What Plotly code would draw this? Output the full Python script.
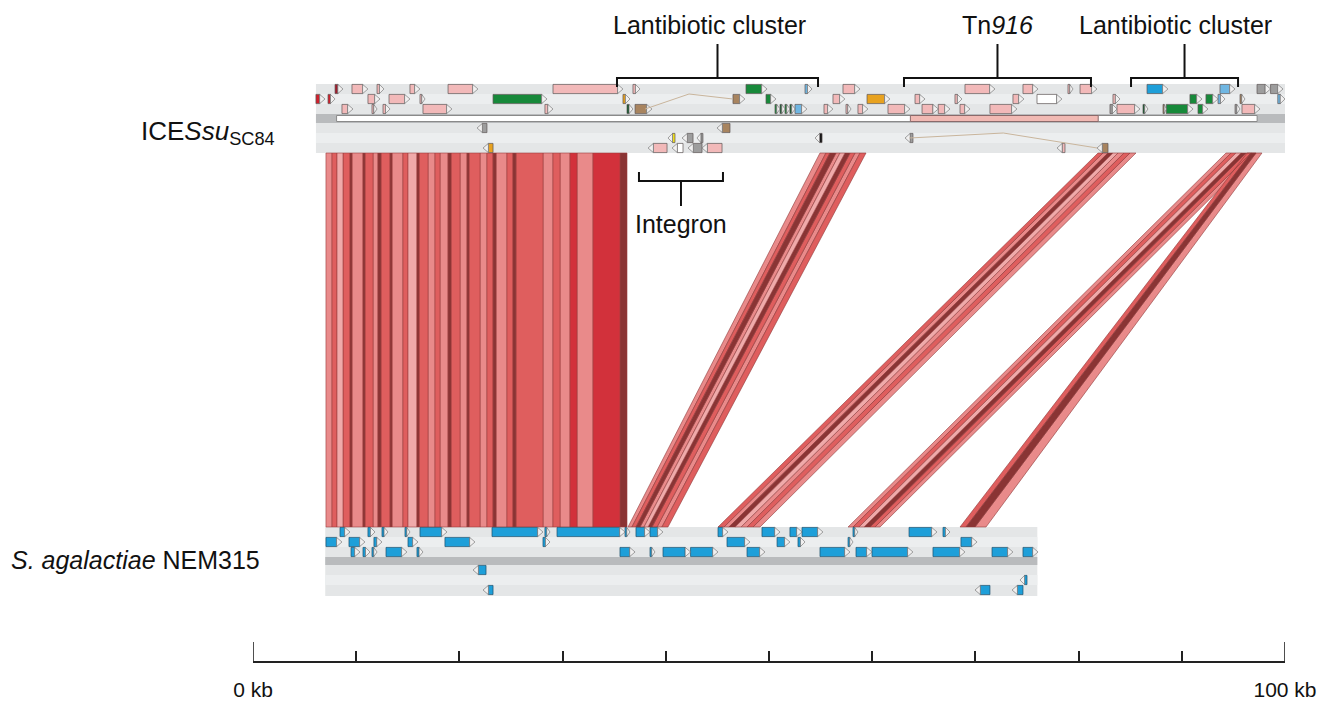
import plotly.graph_objects as go
from collections import OrderedDict

# ---------------- data ----------------
scale_major_kb = [0, 100]
scale_major_labels = ["0 kb", "100 kb"]
scale_minor_step_kb = 10

top_label = "ICE<i>Ssu</i><sub>SC84</sub>"
bottom_label = "<i>S. agalactiae</i> NEM315"

top_extent_kb = [6.1, 100.0]
top_contig_kb = [8.1, 97.3]
top_tn916_bar_kb = [63.7, 81.9]
bottom_extent_kb = [7.0, 76.0]

# genes of ICESsu SC84: (start kb, end kb, colour class); frames 1-3 forward, 4-6 reverse
top_frame1 = [(7.95, 8.72, "darkred"), (9.59, 11.14, "pink"), (12.02, 12.69, "pink"), (15.21, 16.18, "pink"),
              (18.90, 21.80, "pink"), (29.07, 35.85, "pink"), (36.82, 37.50, "pink"), (47.77, 49.81, "green"),
              (53.49, 54.17, "ltblue"), (57.17, 58.82, "pink"), (68.99, 71.90, "pink"), (74.61, 76.07, "pink"),
              (78.97, 79.46, "pink"), (80.14, 81.78, "pink"), (86.63, 88.66, "blue"), (93.70, 95.16, "ltblue"),
              (97.29, 98.60, "gray"), (98.60, 99.81, "gray")]
top_frame2 = [(6.10, 6.98, "red"), (7.27, 7.95, "red"), (11.14, 12.31, "pink"), (13.18, 15.21, "pink"),
              (16.18, 16.67, "pink"), (23.26, 28.49, "green"), (35.85, 36.53, "orange"), (46.51, 47.67, "brown"),
              (49.71, 50.68, "green"), (56.20, 57.36, "pink"), (59.50, 61.72, "orange"), (64.15, 65.12, "pink"),
              (68.02, 68.70, "pink"), (73.64, 74.71, "pink"), (75.97, 78.39, "white"), (83.33, 84.01, "pink"),
              (90.79, 91.96, "green"), (92.34, 93.51, "green"), (93.51, 94.19, "ltblue"), (95.64, 96.12, "brown"),
              (99.30, 100.0, "ltblue")]
top_frame3 = [(8.62, 9.69, "pink"), (11.53, 12.02, "pink"), (12.60, 13.28, "pink"), (16.47, 19.28, "pink"),
              (28.29, 29.07, "pink"), (36.24, 36.82, "dkgreen"), (37.02, 38.66, "brown"), (50.58, 51.07, "green"),
              (51.07, 51.55, "dkgreen"), (51.55, 52.03, "green"), (52.03, 52.52, "dkgreen"), (52.52, 53.68, "ltblue"),
              (55.33, 56.20, "pink"), (57.46, 57.95, "pink"), (58.62, 59.59, "pink"), (61.53, 63.66, "pink"),
              (64.83, 66.40, "pink"), (66.40, 67.54, "pink"), (68.51, 69.48, "pink"), (71.41, 74.03, "pink"),
              (83.04, 83.72, "gray"), (83.72, 85.95, "pink"), (86.24, 86.72, "dkgreen"), (88.18, 88.50, "brown"),
              (88.50, 91.09, "green"), (91.57, 92.54, "green"), (95.16, 95.64, "gray"), (95.83, 97.58, "pink")]
top_frame4 = [(21.71, 22.67, "gray"), (44.96, 46.22, "brown")]
top_frame5 = [(40.21, 40.89, "yellow"), (41.57, 42.64, "gray"), (43.02, 43.60, "gray"),
              (54.46, 55.14, "black"), (63.18, 63.95, "gray")]
top_frame6 = [(22.29, 23.26, "orange"), (38.28, 40.12, "pink"), (40.60, 41.67, "white"), (42.15, 43.51, "gray"),
              (43.51, 45.45, "pink"), (77.91, 78.68, "pink"), (81.78, 82.85, "brown")]

# split-gene links in ICESsu SC84: ((kb, frame), (kb, frame))
top_links = [((38.0, 3), (46.5, 2)), ((63.6, 5), (81.8, 6))]

# genes of S. agalactiae NEM315 (all one colour): (start kb, end kb)
bottom_frame1 = [(8.43, 9.40), (11.14, 11.82), (12.50, 13.08), (14.73, 15.21), (16.18, 18.80), (23.16, 28.10),
                 (28.29, 28.78), (29.46, 36.05), (36.05, 36.53), (37.11, 38.47), (38.47, 39.73), (45.06, 46.03),
                 (49.32, 51.07), (52.03, 53.20), (53.20, 55.23), (58.14, 58.62), (63.57, 66.28), (66.86, 67.54)]
bottom_frame2 = [(7.07, 8.62), (9.30, 10.85), (11.72, 12.50), (15.02, 15.99), (18.60, 21.51), (28.10, 28.78),
                 (45.93, 48.16), (50.78, 52.03), (52.81, 53.49), (57.66, 58.14), (68.60, 70.16)]
bottom_frame3 = [(9.50, 10.37), (10.66, 11.34), (11.53, 12.02), (12.89, 14.92), (15.89, 16.47), (35.56, 37.02),
                 (38.47, 38.95), (39.73, 42.40), (42.40, 45.06), (47.87, 49.61), (54.94, 57.85), (58.43, 59.98),
                 (59.98, 63.95), (65.89, 68.99), (71.61, 73.64), (74.61, 76.07)]
bottom_frame4 = [(21.32, 22.58)]
bottom_frame5 = [(74.32, 75.00)]
bottom_frame6 = [(22.29, 23.26), (69.96, 71.41), (73.55, 74.61)]

# collinear block (same coordinates in both genomes): edges in kb and similarity class per segment
block_edges_kb = [7.07, 7.66, 8.14, 8.72, 9.40, 9.59, 10.66, 10.85, 11.63, 12.11, 12.40, 13.28, 13.47, 14.53,
                  15.02, 15.89, 16.09, 16.96, 17.64, 18.12, 18.90, 19.19, 20.06, 20.74, 20.93, 22.00, 22.67,
                  23.26, 23.55, 24.61, 25.19, 25.48, 28.10, 29.07, 29.75, 30.72, 31.40, 32.95, 35.56, 36.24]
block_similarity = [2, 3, 1, 3, 5, 2, 5, 3, 2, 5, 3, 5, 2, 3, 1, 5, 3, 2, 3, 2, 5, 3, 2, 5, 3, 2, 3, 5, 2, 3,
                    5, 3, 2, 3, 2, 4, 2, 4, 5]

# shifted matches: edges in ICESsu SC84 (top) and NEM315 (bottom), similarity class per segment
bandA_top_kb = [54.94, 55.52, 55.91, 56.49, 56.88, 57.36, 57.85, 58.33, 58.82, 59.40]
bandA_bot_kb = [36.34, 36.72, 37.11, 37.50, 37.89, 38.28, 38.66, 39.15, 39.63, 40.21]
bandA_sim = [2, 3, 5, 2, 1, 5, 3, 2, 3]
bandB_top_kb = [81.88, 82.36, 82.85, 83.33, 83.82, 84.40, 84.98, 85.56]
bandB_bot_kb = [45.06, 45.64, 46.12, 46.71, 47.29, 47.87, 48.45, 49.13]
bandB_sim = [3, 2, 5, 1, 2, 3, 2]
bandC_top_kb = [94.28, 94.77, 95.25, 95.74, 96.22, 96.71, 97.19]
bandC_bot_kb = [57.66, 58.14, 58.72, 59.21, 59.79, 60.27, 60.76]
bandC_sim = [2, 3, 1, 5, 3, 2]
bandD_top_kb = [96.32, 96.71, 97.19, 97.77]
bandD_bot_kb = [68.51, 69.09, 69.96, 71.03]
bandD_sim = [3, 5, 2]

# annotated regions: (label, start kb, end kb)
top_regions = [("Lantibiotic cluster", 35.27, 54.75), ("Tn<i>916</i>", 63.08, 81.20),
               ("Lantibiotic cluster", 85.08, 95.45)]
integron_region = ("Integron", 37.40, 45.54)

# ---------------- styling / layout ----------------
W, H = 1336, 701
PAGE_OFF = 8                      # body margin of the html page
X0_PX, X100_PX = 253.0, 1285.0    # page pixels of 0 kb and 100 kb
AXIS_Y = 662
FONT = "Liberation Sans, Arial, sans-serif"
TXT = 25
REGION_LABEL_SHIFT = [-8, 0, -9]  # px nudge of each region label relative to its bracket centre

TOP_ROW_Y = {1: 89, 2: 99, 3: 109, 4: 128, 5: 138, 6: 148}
TOP_BAR = (114, 123)
TOP_BG = (84, 153)
BOT_ROW_Y = {1: 532, 2: 542, 3: 552, 4: 570, 5: 580, 6: 590}
BOT_BAR = (557, 565)
BOT_BG = (527, 596)
GENE_HALF = 4.6
TIP_KB = 0.52

GENE_COLORS = {"pink": "#f2b9b9", "red": "#d0202c", "darkred": "#a01c2c", "green": "#17893a",
               "dkgreen": "#0b5a2a", "ltblue": "#6fb6e2", "blue": "#1e9fd9", "brown": "#a8845f",
               "orange": "#e8a21f", "gray": "#9d9d9d", "white": "#ffffff", "yellow": "#f2e11c",
               "black": "#111111"}
SIM_COLORS = {1: "#f0aaaa", 2: "#e98a8a", 3: "#df5e5e", 4: "#d2313b", 5: "#8a3434"}


def px_to_paper_x(p):
    return (p - PAGE_OFF) / W


def px_to_paper_y(p):
    return 1 - (p - PAGE_OFF) / H


polys = OrderedDict()


def add_poly(fill, line, width, pts):
    key = (fill, line, width)
    if key not in polys:
        polys[key] = ([], [])
    xs, ys = polys[key]
    for x, y in pts:
        xs.append(x)
        ys.append(y)
    xs.append(pts[0][0])
    ys.append(pts[0][1])
    xs.append(None)
    ys.append(None)


# comparison matches
CMP_TOP, CMP_BOT = TOP_BG[1], BOT_BG[0]
for i, sim in enumerate(block_similarity):
    a, b = block_edges_kb[i], block_edges_kb[i + 1]
    add_poly(SIM_COLORS[sim], "#9b3c3c", 0.6, [(a, CMP_TOP), (b, CMP_TOP), (b, CMP_BOT), (a, CMP_BOT)])

for tops, bots, sims in [(bandA_top_kb, bandA_bot_kb, bandA_sim), (bandB_top_kb, bandB_bot_kb, bandB_sim),
                         (bandC_top_kb, bandC_bot_kb, bandC_sim), (bandD_top_kb, bandD_bot_kb, bandD_sim)]:
    for i, sim in enumerate(sims):
        add_poly(SIM_COLORS[sim], "#8e3a3a", 0.6,
                 [(tops[i], CMP_TOP), (tops[i + 1], CMP_TOP), (bots[i + 1], CMP_BOT), (bots[i], CMP_BOT)])

tips = []


def add_gene(s, e, yc, forward, color, outline):
    t = min(TIP_KB, 0.65 * (e - s))
    h = GENE_HALF
    if forward:
        if e - t > s:
            add_poly(color, outline, 0.7, [(s, yc - h), (e - t, yc - h), (e - t, yc + h), (s, yc + h)])
        tips.append([(e - t, yc - h), (e, yc), (e - t, yc + h)])
    else:
        if s + t < e:
            add_poly(color, outline, 0.7, [(s + t, yc - h), (e, yc - h), (e, yc + h), (s + t, yc + h)])
        tips.append([(s + t, yc - h), (s, yc), (s + t, yc + h)])


for frame, genes in enumerate([top_frame1, top_frame2, top_frame3, top_frame4, top_frame5, top_frame6], start=1):
    for s, e, kind in genes:
        add_gene(s, e, TOP_ROW_Y[frame], frame <= 3, GENE_COLORS[kind], "#5c5454")

for frame, genes in enumerate([bottom_frame1, bottom_frame2, bottom_frame3, bottom_frame4, bottom_frame5,
                               bottom_frame6], start=1):
    for s, e in genes:
        add_gene(s, e, BOT_ROW_Y[frame], frame <= 3, GENE_COLORS["blue"], "#1b4f6c")

for t in tips:
    add_poly("#f1f0f0", "#6a6a6a", 0.6, t)

fig = go.Figure()

# track backgrounds (shapes below traces)
shapes = []


def rect(x0, x1, y0, y1, fill, line=None, lw=0):
    shapes.append(dict(type="rect", xref="x", yref="y", x0=x0, x1=x1, y0=y0, y1=y1, fillcolor=fill,
                       line=dict(color=line or fill, width=lw), layer="below"))


for (ext, bg, rows, bar) in [(top_extent_kb, TOP_BG, TOP_ROW_Y, TOP_BAR),
                             (bottom_extent_kb, BOT_BG, BOT_ROW_Y, BOT_BAR)]:
    rect(ext[0], ext[1], bg[0], bg[1], "#e4e6e7")
    for fr in (2, 5):
        rect(ext[0], ext[1], rows[fr] - 5, rows[fr] + 5, "#eceeef")
    rect(ext[0], ext[1], bar[0], bar[1], "#b9bbbd")

rect(top_contig_kb[0], top_contig_kb[1], TOP_BAR[0] + 1.5, TOP_BAR[1] - 1.5, "#ffffff", "#8a8a8a", 1)
rect(top_tn916_bar_kb[0], top_tn916_bar_kb[1], TOP_BAR[0] + 1.5, TOP_BAR[1] - 1.5, "#f1b9b3", "#8a6a6a", 1)

for (fill, line, width), (xs, ys) in polys.items():
    fig.add_trace(go.Scatter(x=xs, y=ys, mode="lines", fill="toself", fillcolor=fill,
                             line=dict(color=line, width=width), hoverinfo="skip", showlegend=False))

# links between split genes
lx, ly = [], []
for (k1, f1), (k2, f2) in top_links:
    y1, y2 = TOP_ROW_Y[f1], TOP_ROW_Y[f2]
    lx += [k1, (k1 + k2) / 2, k2, None]
    ly += [y1, min(y1, y2) - 5, y2, None]
fig.add_trace(go.Scatter(x=lx, y=ly, mode="lines", line=dict(color="#c9b59c", width=1),
                         hoverinfo="skip", showlegend=False))

# brackets
bx, by = [], []
annotations = []
for (label, s, e), shift in zip(top_regions, REGION_LABEL_SHIFT):
    m = (s + e) / 2
    bx += [s, s, e, e, None, m, m, None]
    by += [87, 78, 78, 87, None, 78, 44, None]
    annotations.append(dict(x=m, y=25, xref="x", yref="y", text=label, showarrow=False, xshift=shift,
                            font=dict(family=FONT, size=TXT, color="#111"), xanchor="center", yanchor="middle"))
lab, s, e = integron_region
m = (s + e) / 2
bx += [s, s, e, e, None, m, m, None]
by += [172, 181, 181, 172, None, 181, 206, None]
annotations.append(dict(x=m, y=224, xref="x", yref="y", text=lab, showarrow=False,
                        font=dict(family=FONT, size=TXT, color="#111"), xanchor="center", yanchor="middle"))
fig.add_trace(go.Scatter(x=bx, y=by, mode="lines", line=dict(color="#111", width=2),
                         hoverinfo="skip", showlegend=False))

# long end ticks of the scale bar
fig.add_trace(go.Scatter(x=[scale_major_kb[0], scale_major_kb[0], None, scale_major_kb[-1], scale_major_kb[-1]],
                         y=[AXIS_Y, AXIS_Y - 20, None, AXIS_Y, AXIS_Y - 20], mode="lines",
                         line=dict(color="#222", width=1.6), hoverinfo="skip", showlegend=False, cliponaxis=False))

# genome labels (paper coordinates)
annotations.append(dict(x=px_to_paper_x(277), y=px_to_paper_y(132), xref="paper", yref="paper", text=top_label,
                        showarrow=False, font=dict(family=FONT, size=26, color="#111"),
                        xanchor="right", yanchor="middle"))
annotations.append(dict(x=px_to_paper_x(9), y=px_to_paper_y(560), xref="paper", yref="paper", text=bottom_label,
                        showarrow=False, font=dict(family=FONT, size=TXT, color="#111"),
                        xanchor="left", yanchor="middle"))

fig.update_layout(
    width=W, height=H, margin=dict(l=0, r=0, t=0, b=0, pad=0, autoexpand=False),
    paper_bgcolor="white", plot_bgcolor="rgba(0,0,0,0)",
    xaxis=dict(domain=[(X0_PX - PAGE_OFF) / W, (X100_PX - PAGE_OFF) / W], range=[0, 100], anchor="free",
               position=px_to_paper_y(AXIS_Y), showline=True, linecolor="#222", linewidth=2, automargin=False,
               ticks="inside", ticklen=20, tickwidth=1.5, tickcolor="#222",
               tickvals=scale_major_kb, ticktext=scale_major_labels,
               minor=dict(ticks="inside", ticklen=10, tickwidth=1.5, tickcolor="#222",
                          tick0=0, dtick=scale_minor_step_kb, showgrid=False),
               showgrid=False, zeroline=False, ticklabelstandoff=9,
               tickfont=dict(family=FONT, size=21, color="#111"), fixedrange=True),
    yaxis=dict(range=[H + PAGE_OFF, PAGE_OFF], visible=False, fixedrange=True, domain=[0, 1], automargin=False),
    shapes=shapes, annotations=annotations, showlegend=False,
)

fig.write_html("out.html")
